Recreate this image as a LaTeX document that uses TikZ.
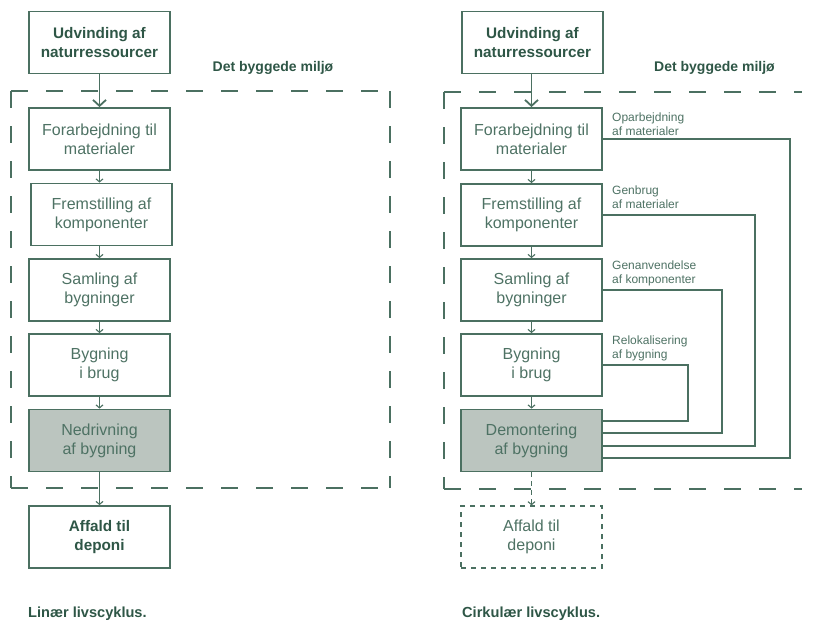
\documentclass[tikz,border=0pt]{standalone}
\usepackage{fontspec}
\setmainfont{Liberation Sans}
\usetikzlibrary{arrows.meta}
\definecolor{lg}{HTML}{4B7061}
\definecolor{tg}{HTML}{4E7264}
\definecolor{dg}{HTML}{2E5646}
\definecolor{fg}{HTML}{BBC5BF}
\begin{document}
\begin{tikzpicture}[x=1pt,y=-1pt,
  stage/.style={draw=lg, line width=1.8pt, minimum width=141pt, minimum height=62pt,
    inner sep=0pt, align=center, text=tg, font=\fontsize{16}{19}\selectfont},
  endbox/.style={stage, text=dg, font=\bfseries\fontsize{15.3}{19}\selectfont},
  waste/.style={stage, fill=fg},
  ghost/.style={stage, line width=1.3pt, dash pattern=on 5pt off 5pt},
  bigarrow/.style={draw=lg, line width=1.8pt, -{Straight Barb[length=6pt,width=13pt,line width=1.8pt]}},
  smallarrow/.style={draw=lg, line width=1.1pt, -{Straight Barb[length=3pt,width=7pt,line width=1.1pt]}},
  envline/.style={draw=lg, line width=2pt, dash pattern=on 17pt off 18pt},
  loopline/.style={draw=lg, line width=1.4pt},
  lbl/.style={anchor=north west, inner sep=0pt, align=left, text=tg, font=\fontsize{12}{14}\selectfont},
  head/.style={inner sep=0pt, text=dg, font=\bfseries\fontsize{14}{16}\selectfont},
  caption/.style={anchor=base west, inner sep=0pt, text=dg, font=\bfseries\fontsize{14.6}{16}\selectfont}
]
\useasboundingbox (0,0) rectangle (814,622);

% ---------- linear life cycle ----------
\draw[envline] (11,91) -- (390,91);
\draw[envline] (11,91) -- (11,488);
\draw[envline] (390,91) -- (390,488);
\draw[envline] (11,488) -- (390,488);

\node[endbox] (lu) at (99.5,42.5) {Udvinding af\\naturressourcer};
\node[head] (lh) at (273,68) {Det byggede miljø};
\node[stage] (l1) at (99.5,139) {Forarbejdning til\\materialer};
\node[stage] (l2) at (101.5,214.5) {Fremstilling af\\komponenter};
\node[stage] (l3) at (99.5,290) {Samling af\\bygninger};
\node[stage] (l4) at (99.5,365) {Bygning\\i brug};
\node[waste] (l5) at (99.5,440.5) {Nedrivning\\af bygning};
\node[endbox] (la) at (99.5,537) {Affald til\\deponi};

\draw[bigarrow] (lu) -- (l1);
\draw[smallarrow] (l1.south) -- (l1.south |- l2.north);
\draw[smallarrow] (l2.south -| l3.north) -- (l3.north);
\draw[smallarrow] (l3) -- (l4);
\draw[smallarrow] (l4) -- (l5);
\draw[smallarrow] (l5) -- (la);

\node[caption] (lc) at (28,617) {Linær livscyklus.};

% ---------- circular life cycle ----------
\draw[envline] (444,92) -- (802,92);
\draw[envline] (444,92) -- (444,489);
\draw[envline] (444,489) -- (802,489);

\node[endbox] (ru) at (532.5,42.5) {Udvinding af\\naturressourcer};
\node[head] (rh) at (714.5,68) {Det byggede miljø};
\node[stage] (r1) at (531.5,139) {Forarbejdning til\\materialer};
\node[stage] (r2) at (531.5,215) {Fremstilling af\\komponenter};
\node[stage] (r3) at (531.5,290) {Samling af\\bygninger};
\node[stage] (r4) at (531.5,365) {Bygning\\i brug};
\node[waste] (r5) at (531.5,440.5) {Demontering\\af bygning};
\node[ghost] (ra) at (531.5,537) {Affald til\\deponi};

\draw[bigarrow] (ru.south -| r1.north) -- (r1.north);
\draw[smallarrow] (r1) -- (r2);
\draw[smallarrow] (r2) -- (r3);
\draw[smallarrow] (r3) -- (r4);
\draw[smallarrow] (r4) -- (r5);
\draw[smallarrow, dash pattern=on 5pt off 4pt] (r5) -- (ra);

% return loops into dismantling
\draw[loopline] (r1.east) -- ++(187,0) |- ([yshift=-17.5pt]r5.east);
\draw[loopline] (r2.east) -- ++(152,0) |- ([yshift=-5.5pt]r5.east);
\draw[loopline] (r3.east) -- ++(119,0) |- ([yshift=7.5pt]r5.east);
\draw[loopline] (r4.east) -- ++(85,0) |- ([yshift=19.5pt]r5.east);

\node[lbl] (t1) at (612,112.5) {Oparbejdning\\af materialer};
\node[lbl] (t2) at (612,185.5) {Genbrug\\af materialer};
\node[lbl] (t3) at (612,260.5) {Genanvendelse\\af komponenter};
\node[lbl] (t4) at (612,335.5) {Relokalisering\\af bygning};

\node[caption] (rc) at (462,617) {Cirkulær livscyklus.};
\end{tikzpicture}
\end{document}
